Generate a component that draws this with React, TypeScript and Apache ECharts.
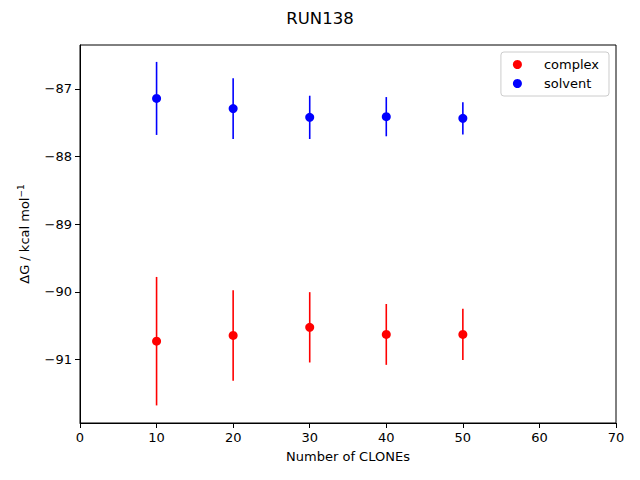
import React, { useEffect, useRef } from "react";
import * as echarts from "echarts";

const clones = [10, 20, 30, 40, 50];
const complexMean = [-90.73, -90.645, -90.525, -90.63, -90.63];
const complexErr = [0.95, 0.67, 0.52, 0.45, 0.38];
const solventMean = [-87.14, -87.29, -87.42, -87.41, -87.435];
const solventErr = [0.54, 0.45, 0.32, 0.29, 0.24];
const yTicks = [-91, -90, -89, -88, -87];

const FONT = "DejaVu Sans";

function errorSeries(name: string, mean: number[], err: number[], color: string) {
  return {
    type: "custom",
    name: name + "-err",
    silent: true,
    z: 1,
    data: clones.map((x, i) => [x, mean[i] - err[i], mean[i] + err[i]]),
    encode: { x: 0, y: [1, 2] },
    renderItem: (params: any, api: any) => {
      const lo = api.coord([api.value(0), api.value(1)]);
      const hi = api.coord([api.value(0), api.value(2)]);
      return {
        type: "line",
        shape: { x1: lo[0], y1: lo[1], x2: hi[0], y2: hi[1] },
        style: { stroke: color, lineWidth: 1.6 },
      };
    },
  };
}

export default function App() {
  const ref = useRef<HTMLDivElement>(null);
  useEffect(() => {
    if (!ref.current) return;
    const chart = echarts.init(ref.current, null, { renderer: "svg" });
    chart.setOption({
      animation: false,
      backgroundColor: "#ffffff",
      title: {
        text: "RUN138",
        left: "center",
        top: 5,
        textStyle: { fontFamily: FONT, fontSize: 16.5, fontWeight: "normal", color: "#000" },
      },
      legend: {
        orient: "vertical",
        right: 31,
        top: 52,
        data: ["complex", "solvent"],
        backgroundColor: "#fff",
        borderColor: "#cccccc",
        borderWidth: 1,
        borderRadius: 3,
        padding: [6, 10, 6, 12],
        itemGap: 6,
        itemWidth: 9,
        itemHeight: 9,
        icon: "circle",
        textStyle: { fontFamily: FONT, fontSize: 13, color: "#000", padding: [0, 0, 0, 17] },
      },
      grid: {
        left: 80,
        right: 24,
        top: 45,
        bottom: 57,
        show: true,
        borderColor: "#000",
        borderWidth: 1,
        backgroundColor: "transparent",
      },
      xAxis: {
        type: "value",
        min: 0,
        max: 70,
        interval: 10,
        name: "Number of CLONEs",
        nameLocation: "middle",
        nameGap: 27,
        nameTextStyle: { fontFamily: FONT, fontSize: 13, color: "#000" },
        axisLine: { show: true, lineStyle: { color: "#000", width: 1 } },
        axisTick: { show: true, inside: false, length: 5, lineStyle: { color: "#000" } },
        axisLabel: { fontFamily: FONT, fontSize: 13, color: "#000", margin: 8 },
        splitLine: { show: false },
      },
      yAxis: {
        type: "value",
        min: -91.94,
        max: -86.35,
        name: "ΔG / kcal mol{sup|−1}",
        nameLocation: "middle",
        nameRotate: 90,
        nameGap: 47,
        nameTextStyle: {
          fontFamily: FONT,
          fontSize: 13,
          color: "#000",
          rich: {
            sup: { fontFamily: FONT, fontSize: 9, color: "#000", verticalAlign: "top", padding: [0, 0, 8, 0] },
          },
        },
        axisLine: { show: true, lineStyle: { color: "#000", width: 1 } },
        axisTick: { show: true, inside: false, length: 5, lineStyle: { color: "#000" }, customValues: yTicks },
        axisLabel: {
          fontFamily: FONT,
          fontSize: 13,
          color: "#000",
          margin: 8,
          customValues: yTicks,
          formatter: (v: number) => String(v).replace("-", "−"),
        },
        splitLine: { show: false },
      },
      series: [
        errorSeries("complex", complexMean, complexErr, "#ff0000"),
        errorSeries("solvent", solventMean, solventErr, "#0000ff"),
        {
          type: "scatter",
          name: "complex",
          z: 3,
          symbol: "circle",
          symbolSize: 9,
          itemStyle: { color: "#ff0000", opacity: 1 },
          data: clones.map((x, i) => [x, complexMean[i]]),
        },
        {
          type: "scatter",
          name: "solvent",
          z: 3,
          symbol: "circle",
          symbolSize: 9,
          itemStyle: { color: "#0000ff", opacity: 1 },
          data: clones.map((x, i) => [x, solventMean[i]]),
        },
      ],
    });
    return () => chart.dispose();
  }, []);
  return <div ref={ref} style={{ width: 640, height: 480, position: "absolute", left: 0, top: 0 }} />;
}
